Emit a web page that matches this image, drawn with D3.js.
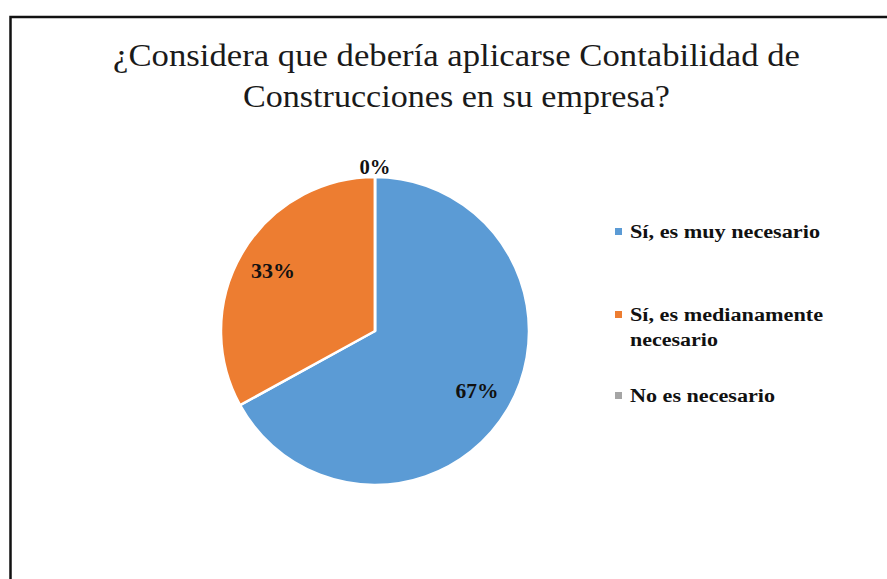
<!DOCTYPE html>
<html>
<head>
<meta charset="utf-8">
<script src="https://cdn.jsdelivr.net/npm/d3@7"></script>
<style>
  body { margin: 0; background: #fff; }
  text { font-family: "Liberation Serif", "Times New Roman", serif; }
</style>
</head>
<body>
<div id="chart"></div>
<script>
// data
const categories = ["Sí, es muy necesario", "Sí, es medianamente necesario", "No es necesario"];
const values = [67, 33, 0];
const valueLabels = ["67%", "33%", "0%"];
const colors = ["#5B9BD5", "#ED7D31", "#A5A5A5"];
const titleLines = ["¿Considera que debería aplicarse Contabilidad de", "Construcciones en su empresa?"];
// legend lines (2nd entry wraps)
const legendLines = [["Sí, es muy necesario"], ["Sí, es medianamente", "necesario"], ["No es necesario"]];

const W = 887, H = 579;
const svg = d3.select("#chart").append("svg")
  .attr("width", W).attr("height", H);

svg.append("rect").attr("width", W).attr("height", H).attr("fill", "#fff");

// chart border (right/bottom edges are cut off in the picture)
svg.append("rect")
  .attr("x", 10.5).attr("y", 17)
  .attr("width", 1000).attr("height", 700)
  .attr("fill", "none")
  .attr("stroke", "#111")
  .attr("stroke-width", 2.5);

// title
const titleWidths = [687, 427];
svg.append("g").selectAll("text")
  .data(titleLines)
  .enter().append("text")
  .attr("x", 456.5)
  .attr("y", (d, i) => 66 + i * 41)
  .attr("text-anchor", "middle")
  .attr("font-size", 31)
  .attr("fill", "#1a1a1a")
  .attr("textLength", (d, i) => titleWidths[i])
  .attr("lengthAdjust", "spacingAndGlyphs")
  .text(d => d);

// pie
const cx = 375, cy = 331, r = 154;
const pie = d3.pie().sort(null).value(d => d);
const arcs = pie(values);
const arc = d3.arc().innerRadius(0).outerRadius(r);
const labelArc = d3.arc().innerRadius(r * 0.77).outerRadius(r * 0.77);
const outArc = d3.arc().innerRadius(r + 10).outerRadius(r + 10);

const g = svg.append("g").attr("transform", "translate(" + cx + "," + cy + ")");

g.selectAll("path")
  .data(arcs)
  .enter().append("path")
  .attr("d", arc)
  .attr("fill", (d, i) => colors[i])
  .attr("stroke", "#fff")
  .attr("stroke-width", 2.5)
  .attr("stroke-linejoin", "round");

const labelWidths = [43, 44, 31];
g.selectAll("text.lbl")
  .data(arcs)
  .enter().append("text")
  .attr("class", "lbl")
  .attr("transform", d => {
    const p = d.value === 0 ? outArc.centroid(d) : labelArc.centroid(d);
    return "translate(" + p[0] + "," + p[1] + ")";
  })
  .attr("text-anchor", "middle")
  .attr("dy", "0.35em")
  .attr("font-size", 20)
  .attr("font-weight", "bold")
  .attr("fill", "#111")
  .attr("textLength", (d, i) => labelWidths[i])
  .attr("lengthAdjust", "spacingAndGlyphs")
  .text((d, i) => valueLabels[i]);

// legend
const legendY = [238, 321, 402];
const legendWidths = [[190], [193, 88], [145]];
const leg = svg.append("g");
categories.forEach((c, i) => {
  leg.append("rect")
    .attr("x", 615).attr("y", legendY[i] - 10)
    .attr("width", 7).attr("height", 7)
    .attr("fill", colors[i]);
  legendLines[i].forEach((line, j) => {
    leg.append("text")
      .attr("x", 630)
      .attr("y", legendY[i] + j * 25)
      .attr("font-size", 18)
      .attr("font-weight", "bold")
      .attr("fill", "#111")
      .attr("textLength", legendWidths[i][j])
      .attr("lengthAdjust", "spacingAndGlyphs")
      .text(line);
  });
});
</script>
</body>
</html>
